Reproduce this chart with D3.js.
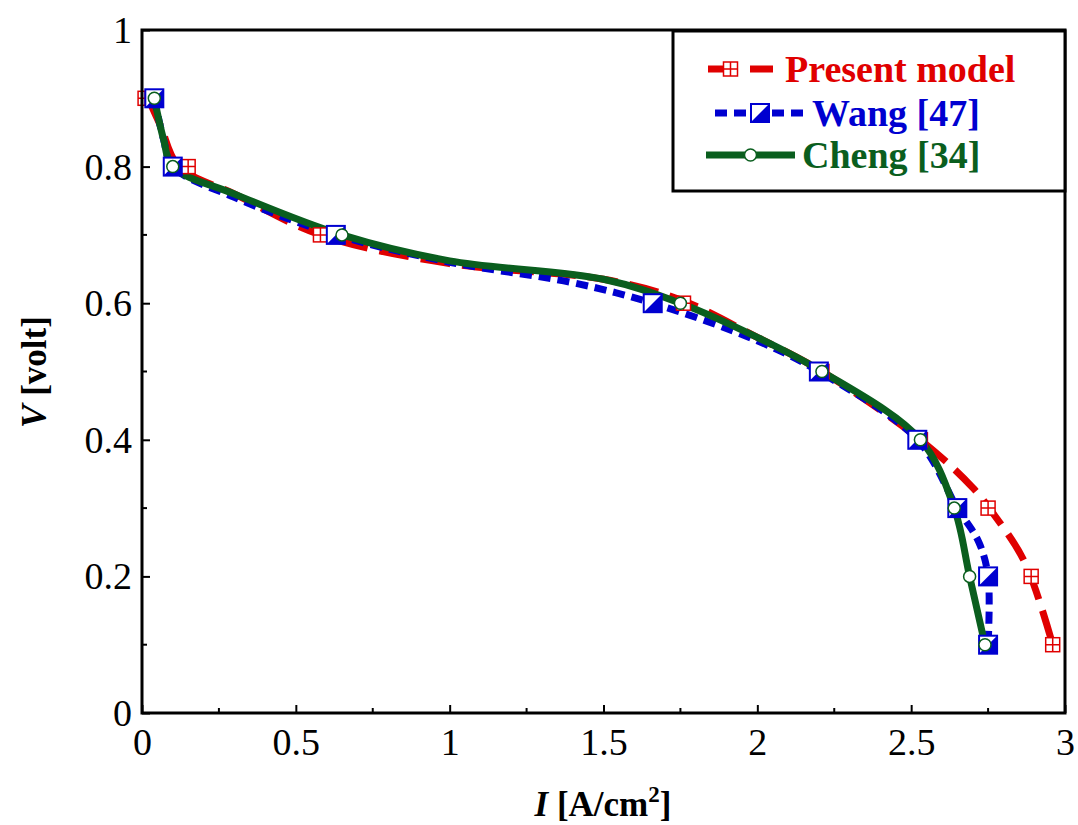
<!DOCTYPE html>
<html><head><meta charset="utf-8">
<script src="https://cdn.jsdelivr.net/npm/d3@7"></script>
<style>body{margin:0;background:#fff}svg text{font-family:"Liberation Serif","Times New Roman",Times,serif}</style>
</head><body><svg id="c" width="1078" height="825"></svg>
<script>
// marker points
var presentPts = [[0.01,0.9],[0.15,0.8],[0.58,0.7],[1.76,0.6],[2.21,0.5],[2.53,0.4],[2.75,0.3],[2.89,0.2],[2.96,0.1]];
var wangPts = [[0.04,0.9],[0.1,0.8],[0.63,0.7],[1.66,0.6],[2.2,0.5],[2.52,0.4],[2.65,0.3],[2.75,0.2],[2.75,0.1]];
var chengPts = [[0.04,0.9],[0.1,0.8],[0.65,0.7],[1.75,0.6],[2.21,0.5],[2.53,0.4],[2.64,0.3],[2.69,0.2],[2.74,0.1]];
// curve points
var presentLine = [[0.02,0.9],[0.06,0.86],[0.12,0.8],[0.3,0.76],[0.58,0.7],[1.0,0.658],[1.5,0.635],[1.75,0.605],[2.0,0.55],[2.21,0.5],[2.53,0.4],[2.7,0.33],[2.77,0.29],[2.87,0.22],[2.96,0.1]];
var wangLine = [[0.04,0.9],[0.07,0.84],[0.1,0.8],[0.3,0.755],[0.63,0.7],[1.0,0.66],[1.4,0.63],[1.66,0.6],[2.0,0.545],[2.2,0.5],[2.52,0.4],[2.65,0.3],[2.72,0.25],[2.75,0.2],[2.75,0.1]];
var chengLine = [[0.04,0.9],[0.07,0.84],[0.1,0.8],[0.3,0.76],[0.65,0.7],[1.0,0.662],[1.5,0.635],[1.75,0.6],[2.0,0.55],[2.21,0.5],[2.53,0.4],[2.64,0.3],[2.69,0.2],[2.74,0.1]];
var xTicks = [0,0.5,1,1.5,2,2.5,3];
var yTicks = [0,0.2,0.4,0.6,0.8,1];
var names = ["Present model","Wang [47]","Cheng [34]"];

var svg = d3.select("#c");
var L=142,R=1065,T=30,B=713;
var x = d3.scaleLinear().domain([0,3]).range([L,R]);
var y = d3.scaleLinear().domain([0,1]).range([B,T]);

svg.append("g").attr("transform","translate(0,"+B+")")
  .call(d3.axisBottom(x).tickValues(xTicks).tickSize(-8).tickFormat(d3.format("")))
  .call(g=>{g.select(".domain").remove();g.selectAll("line").attr("stroke-width",2);
    g.attr("font-size",38).attr("font-family","Liberation Serif");
    g.selectAll("text").attr("y",12).attr("dy","0.8em");});
svg.append("g").attr("transform","translate("+L+",0)")
  .call(d3.axisLeft(y).tickValues(yTicks).tickSize(-8).tickFormat(d=>d===0||d===1?d:d3.format(".1f")(d)))
  .call(g=>{g.select(".domain").remove();g.selectAll("line").attr("stroke-width",2);
    g.attr("font-size",38).attr("font-family","Liberation Serif");
    g.selectAll("text").attr("x",-10).attr("dy","0.33em");});
// minor ticks
svg.append("g").selectAll("line").data(d3.range(0.1,1,0.2)).enter().append("line")
  .attr("x1",L).attr("x2",L+5).attr("y1",d=>y(d)).attr("y2",d=>y(d)).attr("stroke","#000").attr("stroke-width",2);
svg.append("g").selectAll("line").data(d3.range(0.25,3,0.5)).enter().append("line")
  .attr("y1",B).attr("y2",B-5).attr("x1",d=>x(d)).attr("x2",d=>x(d)).attr("stroke","#000").attr("stroke-width",2);

var line = d3.line().x(d=>x(d[0])).y(d=>y(d[1])).curve(d3.curveCatmullRom);
svg.append("path").attr("d",line(presentLine)).attr("fill","none").attr("stroke","#e00000").attr("stroke-width",7).attr("stroke-dasharray","30,12");
svg.append("path").attr("d",line(wangLine)).attr("fill","none").attr("stroke","#0000d0").attr("stroke-width",7).attr("stroke-dasharray","12,7");
svg.append("path").attr("d",line(chengLine)).attr("fill","none").attr("stroke","#0a5e1e").attr("stroke-width",7);

function redMark(g){
  g.append("rect").attr("x",-7).attr("y",-7).attr("width",14).attr("height",14).attr("fill","#fff").attr("stroke","#e00000").attr("stroke-width",1.5);
  g.append("path").attr("d","M0,-7V7M-7,0H7").attr("stroke","#e00000").attr("stroke-width",1.5);
}
function blueMark(g){
  g.append("rect").attr("x",-9).attr("y",-9).attr("width",18).attr("height",18).attr("fill","#fff").attr("stroke","#0000d0").attr("stroke-width",2);
  g.append("path").attr("d","M9,-9L9,9L-9,9Z").attr("fill","#0000d0");
}
function greenMark(g){
  g.append("circle").attr("r",6).attr("fill","#fff").attr("stroke","#0a5e1e").attr("stroke-width",1.5);
}
function marks(pts,fn){
  svg.append("g").selectAll("g").data(pts).enter().append("g")
    .attr("transform",d=>"translate("+x(d[0])+","+y(d[1])+")").each(function(){fn(d3.select(this));});
}
marks(presentPts,redMark); marks(wangPts,blueMark); marks(chengPts,greenMark);

// frame
svg.append("rect").attr("x",L).attr("y",T).attr("width",R-L).attr("height",B-T).attr("fill","none").attr("stroke","#000").attr("stroke-width",3);

// legend
svg.append("rect").attr("x",673).attr("y",31).attr("width",392).attr("height",160).attr("fill","#fff").attr("stroke","#000").attr("stroke-width",3);
var lg = [{c:"#e00000",y:69,dash:"30,12",x1:708,x2:773,tx:785,m:redMark},
          {c:"#0000d0",y:113,dash:"12,7",x1:715,x2:805,tx:812,m:blueMark},
          {c:"#0a5e1e",y:155,dash:null,x1:706,x2:795,tx:802,m:greenMark}];
lg.forEach(function(d,i){
  svg.append("line").attr("x1",d.x1).attr("x2",d.x2).attr("y1",d.y).attr("y2",d.y).attr("stroke",d.c).attr("stroke-width",7).attr("stroke-dasharray",d.dash);
  var g = svg.append("g").attr("transform","translate("+((d.x1+d.x2)/2-(i==0?10:0))+","+d.y+")"); d.m(g);
  svg.append("text").attr("x",d.tx).attr("y",d.y+13).attr("fill",d.c).attr("font-size",38).attr("font-weight","bold").text(names[i]);
});

// axis titles
svg.append("text").attr("x",603).attr("y",816).attr("text-anchor","middle").attr("font-size",35).attr("font-weight","bold")
  .html('<tspan font-style="italic">I</tspan> [A/cm<tspan dy="-14" font-size="23">2</tspan><tspan dy="14">]</tspan>');
svg.append("text").attr("transform","translate(46,372) rotate(-90)").attr("text-anchor","middle").attr("font-size",35).attr("font-weight","bold")
  .html('<tspan font-style="italic">V</tspan> [volt]');
</script></body></html>
